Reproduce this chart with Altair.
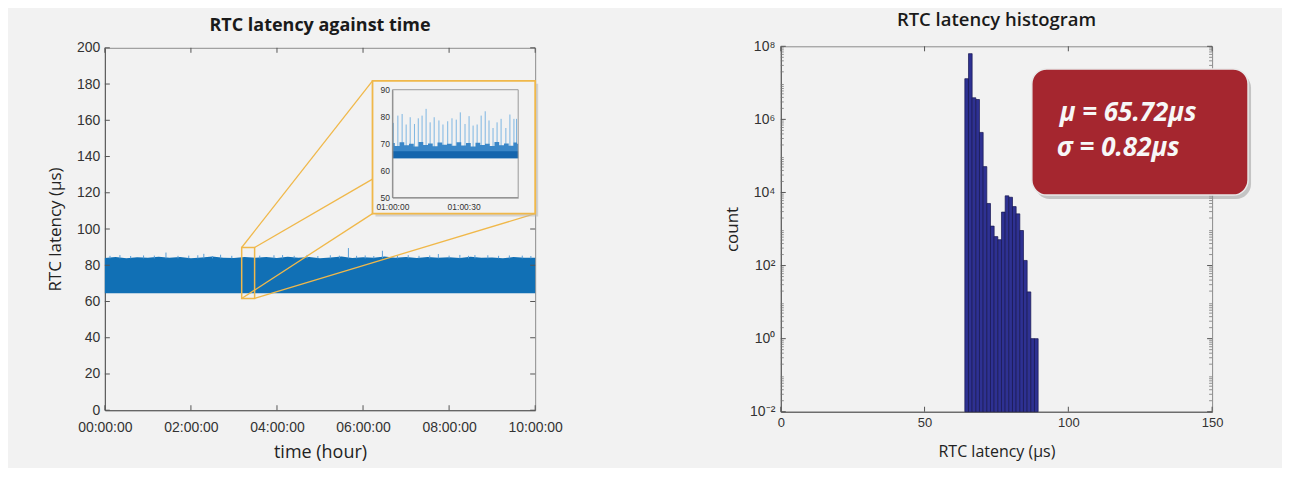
import altair as alt
import pandas as pd

# ---------------- data ----------------
# main time series: dense band drawn as an envelope (hours -> µs)
BAND_T = [0.0, 0.25, 0.5, 0.75, 1.0, 1.25, 1.5, 1.75, 2.0, 2.25, 2.5, 2.75, 3.0, 3.25,
          3.5, 3.75, 4.0, 4.25, 4.5, 4.75, 5.0, 5.25, 5.5, 5.75, 6.0, 6.25, 6.5, 6.75,
          7.0, 7.25, 7.5, 7.75, 8.0, 8.25, 8.5, 8.75, 9.0, 9.25, 9.5, 9.75, 10.0]
BAND_TOP = [84.0, 84.6, 83.9, 84.4, 84.1, 84.7, 84.2, 84.5, 83.9, 84.3, 84.8, 84.1, 84.0, 84.6,
            84.2, 84.5, 84.0, 84.7, 84.1, 84.5, 83.9, 84.3, 84.8, 84.0, 84.4, 84.2, 84.9, 84.1,
            84.5, 84.0, 84.6, 84.2, 84.4, 84.0, 84.7, 84.1, 84.3, 83.9, 84.5, 84.2, 84.1]
BAND_FLOOR = 64.5
SPIKE_T = [0.12, 0.35, 0.6, 0.9, 1.15, 1.42, 1.7, 1.95, 2.16, 2.3, 2.5, 2.69, 2.95, 3.6,
           3.93, 4.13, 4.4, 4.7, 4.95, 5.24, 5.45, 5.66, 5.85, 6.05, 6.25, 6.45, 6.8,
           7.05, 7.3, 7.55, 7.75, 8.0, 8.25, 8.45, 8.6, 8.9, 9.15, 9.4, 9.7, 9.9]
SPIKE_V = [85.2, 85.6, 85.1, 85.4, 85.3, 87.0, 85.2, 85.3, 85.5, 86.3, 85.1, 85.8, 85.2, 85.3,
           85.5, 85.6, 85.2, 85.7, 85.1, 85.5, 85.3, 89.5, 85.2, 85.4, 85.1, 88.0, 85.3,
           85.6, 85.2, 85.4, 86.2, 85.3, 85.7, 85.2, 85.6, 85.5, 85.2, 85.4, 85.3, 85.1]
SPIKE_BASE = 83.8

# inset (seconds after 01:00:00 -> µs)
INSET_T = [0, 2, 4, 6, 8, 10, 12, 14, 16, 18, 20, 22, 24, 26, 28, 30, 32, 34, 36, 38,
           40, 42, 44, 46, 48, 50, 52, 53]
INSET_TOP = [70.2, 69.1, 70.5, 69.4, 70.0, 68.9, 70.6, 69.5, 70.1, 69.0, 70.4, 69.6, 70.0, 69.2,
             70.5, 69.3, 70.2, 68.9, 70.3, 69.5, 70.0, 69.1, 70.6, 69.4, 70.1, 69.2, 70.4, 70.0]
INSET_CORE = 67.2
INSET_FLOOR = 64.6
INSET_SPIKE_T = [0.4, 2.3, 4.1, 5.8, 7.5, 9.3, 10.9, 12.5, 14.2, 15.9, 17.6, 19.6, 21.3, 23.3,
                 25.1, 26.9, 28.6, 30.6, 32.3, 34.0, 35.7, 37.4, 39.1, 40.7, 42.4, 44.1,
                 45.8, 47.8, 49.5, 51.2, 52.3]
INSET_SPIKE_V = [77.7, 80.4, 81.0, 77.1, 79.8, 77.3, 79.4, 80.4, 82.9, 77.9, 79.8, 78.6, 77.1,
                 78.3, 79.4, 78.9, 81.6, 77.3, 80.2, 76.7, 77.1, 80.4, 82.0, 78.6, 75.8, 77.9,
                 79.2, 75.8, 80.8, 79.2, 79.2]
INSET_SPIKE_BASE = 67.0

# histogram (bin edges in µs, counts)
HIST_EDGES = [64.0, 65.28, 66.55, 67.83, 69.1, 70.38, 71.65, 72.93, 74.2, 75.48, 76.75,
              78.03, 79.3, 80.58, 81.85, 83.13, 84.4, 85.68, 86.95, 88.23, 89.5]
HIST_COUNTS = [1.3e7, 6.3e7, 3.9e6, 3.5e6, 4.4e5, 5.1e4, 5.0e3, 1.2e3, 620, 510, 2900,
               8100, 7400, 4100, 2600, 910, 138, 19, 1, 1]
HIST_BASE = 0.01

STAT_LINES = ["μ = 65.72μs", "σ = 0.82μs"]

# annotation geometry (in data units of each panel)
ZOOM_RECT = {"x": [3.18], "x2": [3.48], "y": [61.7], "y2": [89.8]}
INSET_BOX = {"x": [6.22], "x2": [10.0], "y": [108.5], "y2": [181.8]}
CONN_X1 = [3.18, 3.48, 3.18, 3.48]
CONN_Y1 = [89.8, 89.8, 61.7, 61.7]
CONN_X2 = [6.22, 6.22, 6.22, 10.0]
CONN_Y2 = [181.8, 127.5, 108.5, 108.5]
STAT_BOX = {"x": [87.3], "x2": [162.5], "y": [2.4e7], "y2": [8.5e3]}
STAT_TEXT_X = [97.0, 96.0]
STAT_TEXT_Y = [1.5e6, 1.6e5]

LEFT_XTICKS = [0, 2, 4, 6, 8, 10]
LEFT_YTICKS = [0, 20, 40, 60, 80, 100, 120, 140, 160, 180, 200]
RIGHT_XTICKS = [0, 50, 100, 150]
RIGHT_YTICKS = [0.01, 1, 100, 1e4, 1e6, 1e8]
RIGHT_MINOR = [m * 10 ** k for k in range(-2, 8) for m in range(2, 10)]

# ---------------- style ----------------
W1, H1 = 431, 363
W2, H2 = 432, 366
BG = "#f2f2f2"
BLUE = "#1170b5"
LIGHT = "#5a9fd6"
ORANGE = "#f0b84a"
AXC = "#555555"
TTL = dict(titleFont="Open Sans", titleFontWeight="normal", titleColor="#222222")


def lbl(size):
    return dict(labelFont="Liberation Sans", labelFontSize=size, labelColor="#333333",
                labelFlush=False, labelOverlap=False)


# ---------------- left panel ----------------
XS1 = alt.Scale(domain=[0, 10], nice=False, zero=False)
YS1 = alt.Scale(domain=[0, 200], nice=False)
XA1 = alt.Axis(values=LEFT_XTICKS, ticks=False, grid=False, domainColor=AXC,
               labelExpr="(datum.value < 10 ? '0' : '') + datum.value + ':00:00'",
               labelPadding=10, title="time (hour)", titleFontSize=18, titlePadding=9, **lbl(14), **TTL)
YA1 = alt.Axis(values=LEFT_YTICKS, ticks=False, grid=False, domainColor=AXC,
               labelPadding=5, title="RTC latency (µs)", titleFontSize=17, titlePadding=12, **lbl(14), **TTL)


def X1(f):
    return alt.X(f, type="quantitative", scale=XS1, axis=XA1)


def Y1(f):
    return alt.Y(f, type="quantitative", scale=YS1, axis=YA1)


band_df = pd.DataFrame({"t": BAND_T, "top": BAND_TOP, "floor": [BAND_FLOOR] * len(BAND_T)})
band = alt.Chart(band_df).mark_area(color=BLUE, opacity=1, interpolate="linear").encode(
    x=X1("t"), y=Y1("top"), y2="floor")

sp_df = pd.DataFrame({"t": SPIKE_T, "v": SPIKE_V, "b": [SPIKE_BASE] * len(SPIKE_T)})
spikes = alt.Chart(sp_df).mark_rule(color=LIGHT, strokeWidth=1).encode(x=X1("t"), y=Y1("b"), y2="v")

xt_df = pd.DataFrame({"v": LEFT_XTICKS})
yt_df = pd.DataFrame({"v": LEFT_YTICKS})
tick_bot = alt.Chart(xt_df).mark_rule(color=AXC).encode(x=X1("v"), y=alt.value(H1), y2=alt.value(H1 - 5))
tick_top = alt.Chart(xt_df).mark_rule(color=AXC).encode(x=X1("v"), y=alt.value(0), y2=alt.value(5))
tick_lft = alt.Chart(yt_df).mark_rule(color=AXC).encode(y=Y1("v"), x=alt.value(0), x2=alt.value(5))
tick_rgt = alt.Chart(yt_df).mark_rule(color=AXC).encode(y=Y1("v"), x=alt.value(W1), x2=alt.value(W1 - 5))

conn_df = pd.DataFrame({"x1": CONN_X1, "y1": CONN_Y1, "x2": CONN_X2, "y2": CONN_Y2})
conns = alt.Chart(conn_df).mark_rule(color=ORANGE, strokeWidth=1.3).encode(
    x=X1("x1"), y=Y1("y1"), x2="x2", y2="y2")

zr = alt.Chart(pd.DataFrame(ZOOM_RECT)).mark_rect(fillOpacity=0, stroke=ORANGE, strokeWidth=1.5).encode(
    x=X1("x"), x2="x2", y=Y1("y"), y2="y2")

box_df = pd.DataFrame(INSET_BOX)
box_sh = alt.Chart(box_df).mark_rect(color="#b8b8b8", opacity=0.55, xOffset=3, x2Offset=3,
                                     yOffset=3, y2Offset=3).encode(x=X1("x"), x2="x2", y=Y1("y"), y2="y2")
box = alt.Chart(box_df).mark_rect(fill=BG, stroke=ORANGE, strokeWidth=1.8).encode(
    x=X1("x"), x2="x2", y=Y1("y"), y2="y2")

main_layer = alt.layer(band, spikes, tick_bot, tick_top, tick_lft, tick_rgt, conns, zr, box_sh, box)

# inset with its own scales placed inside the orange box
XSI = alt.Scale(domain=[0, 53], range=[288, 414], nice=False, zero=False)
YSI = alt.Scale(domain=[50, 90], range=[150, 42], nice=False, zero=False)
XAI = alt.Axis(values=[0, 30], orient="bottom", offset=-(H1 - 150), ticks=False, grid=False, zindex=3,
               domainColor="#8a8a8a", labelFont="Liberation Sans", labelFontSize=8.5, labelColor="#333",
               labelPadding=5, title=None, labelFlush=False, labelOverlap=False,
               labelExpr="'01:00:' + (datum.value < 10 ? '0' : '') + datum.value")
YAI = alt.Axis(values=[50, 60, 70, 80, 90], orient="left", offset=-288, ticks=False, grid=False, zindex=3,
               domainColor="#8a8a8a", labelFont="Liberation Sans", labelFontSize=8.5, labelColor="#333",
               labelPadding=3, title=None, labelFlush=False, labelOverlap=False)


def XI(f):
    return alt.X(f, type="quantitative", scale=XSI, axis=XAI)


def YI(f):
    return alt.Y(f, type="quantitative", scale=YSI, axis=YAI)


in_df = pd.DataFrame({"t": INSET_T, "top": INSET_TOP, "core": [INSET_CORE] * len(INSET_T),
                      "floor": [INSET_FLOOR] * len(INSET_T)})
in_fuzz = alt.Chart(in_df).mark_area(color="#3a87c8", interpolate="step").encode(
    x=XI("t"), y=YI("top"), y2="floor")
in_core = alt.Chart(in_df).mark_area(color="#1465ad").encode(x=XI("t"), y=YI("core"), y2="floor")
isp_df = pd.DataFrame({"t": INSET_SPIKE_T, "v": INSET_SPIKE_V,
                       "b": [INSET_SPIKE_BASE] * len(INSET_SPIKE_T)})
in_sp = alt.Chart(isp_df).mark_rule(color="#7db6e2", strokeWidth=1).encode(x=XI("t"), y=YI("b"), y2="v")
frame_df = pd.DataFrame({"x": [0], "x2": [53], "y": [50], "y2": [90]})
in_frame = alt.Chart(frame_df).mark_rect(fillOpacity=0, stroke="#9a9a9a", strokeWidth=1).encode(
    x=XI("x"), x2="x2", y=YI("y"), y2="y2")

inset_layer = alt.layer(in_sp, in_fuzz, in_core, in_frame)

left = alt.layer(main_layer, inset_layer).resolve_scale(x="independent", y="independent").properties(
    width=W1, height=H1,
    title=alt.TitleParams("RTC latency against time", font="Open Sans", fontSize=18, fontWeight="bold",
                          color="#1a1a1a", offset=6, frame="group", anchor="middle"))

# ---------------- right panel ----------------
XS2 = alt.Scale(domain=[0, 150], nice=False, zero=False)
YS2 = alt.Scale(type="log", domain=[0.01, 1e8], nice=False)
XA2 = alt.Axis(values=RIGHT_XTICKS, ticks=False, grid=False, domainColor=AXC, labelPadding=5,
               title="RTC latency (µs)", titleFontSize=16, titlePadding=14, **lbl(13), **TTL)
YA2 = alt.Axis(values=RIGHT_YTICKS, ticks=False, grid=False, domainColor=AXC, labelPadding=6,
               labelExpr="datum.value < 0.1 ? '10⁻²' : datum.value < 10 ? '10⁰' : datum.value < 1000 ? '10²' : datum.value < 1e5 ? '10⁴' : datum.value < 1e7 ? '10⁶' : '10⁸'",
               title="count", titleFontSize=17, titlePadding=8, **lbl(14), **TTL)


def X2(f):
    return alt.X(f, type="quantitative", scale=XS2, axis=XA2)


def Y2(f):
    return alt.Y(f, type="quantitative", scale=YS2, axis=YA2)


hist_df = pd.DataFrame({"lo": HIST_EDGES[:-1], "hi": HIST_EDGES[1:], "count": HIST_COUNTS,
                        "base": [HIST_BASE] * len(HIST_COUNTS)})
bars = alt.Chart(hist_df).mark_rect(fill="#2e3192", stroke="#16164f", strokeWidth=0.7).encode(
    x=X2("lo"), x2="hi", y=Y2("count"), y2="base")

rxt = pd.DataFrame({"v": RIGHT_XTICKS})
ryt = pd.DataFrame({"v": RIGHT_YTICKS})
rmn = pd.DataFrame({"v": RIGHT_MINOR})
r_ticks = [
    alt.Chart(rxt).mark_rule(color=AXC).encode(x=X2("v"), y=alt.value(H2), y2=alt.value(H2 - 5)),
    alt.Chart(rxt).mark_rule(color=AXC).encode(x=X2("v"), y=alt.value(0), y2=alt.value(5)),
    alt.Chart(ryt).mark_rule(color=AXC).encode(y=Y2("v"), x=alt.value(0), x2=alt.value(5)),
    alt.Chart(ryt).mark_rule(color=AXC).encode(y=Y2("v"), x=alt.value(W2), x2=alt.value(W2 - 5)),
    alt.Chart(rmn).mark_rule(color="#777", strokeWidth=0.8).encode(y=Y2("v"), x=alt.value(0), x2=alt.value(3)),
    alt.Chart(rmn).mark_rule(color="#777", strokeWidth=0.8).encode(y=Y2("v"), x=alt.value(W2), x2=alt.value(W2 - 3)),
]

sb_df = pd.DataFrame(STAT_BOX)
sb_sh = alt.Chart(sb_df).mark_rect(color="#8c8c8c", opacity=0.45, cornerRadius=15, xOffset=3, x2Offset=3,
                                   yOffset=4, y2Offset=4).encode(x=X2("x"), x2="x2", y=Y2("y"), y2="y2")
sb = alt.Chart(sb_df).mark_rect(fill="#a5262f", stroke="#e9e9e9", strokeWidth=1.5, cornerRadius=15).encode(
    x=X2("x"), x2="x2", y=Y2("y"), y2="y2")
st_df = pd.DataFrame({"x": STAT_TEXT_X, "y": STAT_TEXT_Y, "s": STAT_LINES})
stxt = alt.Chart(st_df).mark_text(align="left", baseline="middle", font="Open Sans", fontSize=26,
                                  fontStyle="italic", fontWeight="bold", color="#f7f7f7").encode(
    x=X2("x"), y=Y2("y"), text="s")

right = alt.layer(bars, *r_ticks, sb_sh, sb, stxt).properties(
    width=W2, height=H2,
    title=alt.TitleParams("RTC latency histogram", font="Open Sans", fontSize=18.5, fontWeight=600,
                          color="#1a1a1a", offset=10, frame="group", anchor="middle"))

chart = alt.hconcat(left, right, spacing=246, bounds="flush", center=True).properties(
    background=BG, padding={"left": 38, "top": 2, "right": 30, "bottom": 6}
).configure_view(stroke="#8c8c8c", strokeWidth=1)

chart.save("out.html", embed_options={"renderer": "svg", "actions": False})
